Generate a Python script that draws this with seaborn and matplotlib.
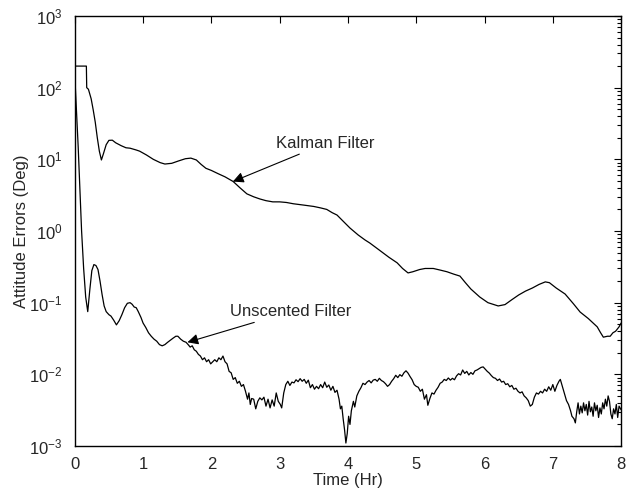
import matplotlib
matplotlib.use("Agg")
import matplotlib.pyplot as plt
import matplotlib.ticker as mticker
import pandas as pd
import seaborn as sns

# Kalman filter attitude error (Deg) vs time (Hr)
kalman_t = [0.0, 0.17, 0.175, 0.20, 0.24, 0.27, 0.30, 0.33, 0.36, 0.39, 0.42, 0.46, 0.50, 0.55,
            0.60, 0.68, 0.75, 0.81, 0.90, 0.95, 1.05, 1.15, 1.25, 1.32, 1.42, 1.52, 1.62, 1.70,
            1.78, 1.85, 1.92, 2.00, 2.10, 2.20, 2.32, 2.42, 2.52, 2.62, 2.71, 2.80, 2.90, 3.00,
            3.10, 3.20, 3.35, 3.50, 3.60, 3.69, 3.77, 3.84, 3.92, 4.03, 4.15, 4.25, 4.32, 4.45,
            4.60, 4.72, 4.80, 4.88, 4.95, 5.05, 5.13, 5.25, 5.35, 5.45, 5.55, 5.64, 5.72, 5.80,
            5.93, 6.05, 6.20, 6.30, 6.40, 6.50, 6.60, 6.70, 6.80, 6.89, 6.95, 7.05, 7.18, 7.30,
            7.40, 7.52, 7.65, 7.70, 7.74, 7.80, 7.84, 7.88, 7.92, 7.97, 8.00]
kalman_err = [200, 200, 100, 95, 70, 49, 33, 20, 13, 9.8, 12, 16, 18.4, 18.5,
              17, 15.5, 14.5, 14.3, 13.5, 13, 11.5, 10, 9, 8.6, 8.8, 9.5, 10.2, 10.4,
              9.8, 8.5, 7.5, 7.0, 6.3, 5.7, 4.9, 4.0, 3.3, 3.0, 2.8, 2.65, 2.55, 2.55,
              2.5, 2.4, 2.3, 2.2, 2.1, 2.0, 1.8, 1.67, 1.4, 1.1, 0.88, 0.75, 0.68, 0.55,
              0.43, 0.36, 0.30, 0.26, 0.27, 0.29, 0.30, 0.30, 0.285, 0.27, 0.25, 0.235, 0.19, 0.155,
              0.12, 0.10, 0.09, 0.094, 0.11, 0.128, 0.145, 0.16, 0.18, 0.195, 0.19, 0.16, 0.132, 0.097,
              0.074, 0.06, 0.046, 0.038, 0.033, 0.034, 0.034, 0.038, 0.040, 0.046, 0.052]

# Unscented filter attitude error (Deg) vs time (Hr)
ukf_t = [0.00, 0.02, 0.05, 0.08, 0.10, 0.13, 0.16, 0.19, 0.22, 0.25, 0.28, 0.31, 0.34, 0.37,
         0.40, 0.43, 0.46, 0.50, 0.53, 0.57, 0.61, 0.65, 0.69, 0.73, 0.77, 0.81, 0.84, 0.87,
         0.90, 0.93, 0.97, 1.00, 1.04, 1.08, 1.12, 1.16, 1.20, 1.24, 1.28, 1.32, 1.36, 1.40,
         1.44, 1.48, 1.51, 1.55, 1.59, 1.63, 1.66, 1.69, 1.72, 1.75, 1.78, 1.81, 1.84, 1.87,
         1.90, 1.93, 1.96, 1.99, 2.02, 2.05, 2.08, 2.11, 2.14, 2.17, 2.20, 2.23, 2.26, 2.29,
         2.32, 2.35, 2.38, 2.41, 2.44, 2.47, 2.50, 2.53, 2.55, 2.57, 2.59, 2.62, 2.65, 2.68,
         2.71, 2.74, 2.77, 2.80, 2.83, 2.86, 2.89, 2.92, 2.95, 2.98, 3.01, 3.03, 3.06, 3.09,
         3.12, 3.15, 3.18, 3.21, 3.24, 3.27, 3.30, 3.33, 3.36, 3.39, 3.42, 3.45, 3.48, 3.51,
         3.54, 3.57, 3.60, 3.63, 3.66, 3.69, 3.72, 3.75, 3.78, 3.81, 3.84, 3.87, 3.89, 3.91,
         3.93, 3.95, 3.97, 3.99, 4.01, 4.03, 4.05, 4.08, 4.10, 4.13, 4.16, 4.19, 4.22, 4.25,
         4.28, 4.31, 4.34, 4.37, 4.40, 4.43, 4.46, 4.49, 4.52, 4.55, 4.58, 4.61, 4.64, 4.67,
         4.70, 4.73, 4.76, 4.79, 4.82, 4.85, 4.88, 4.91, 4.94, 4.97, 5.00, 5.03, 5.06, 5.09,
         5.12, 5.15, 5.17, 5.20, 5.23, 5.26, 5.29, 5.32, 5.35, 5.38, 5.41, 5.44, 5.47, 5.50,
         5.53, 5.56, 5.59, 5.62, 5.65, 5.68, 5.71, 5.74, 5.77, 5.80, 5.83, 5.86, 5.89, 5.92,
         5.95, 5.98, 6.01, 6.04, 6.07, 6.10, 6.13, 6.16, 6.19, 6.22, 6.25, 6.28, 6.31, 6.34,
         6.37, 6.40, 6.43, 6.46, 6.49, 6.52, 6.55, 6.58, 6.61, 6.64, 6.67, 6.70, 6.73, 6.76,
         6.79, 6.82, 6.85, 6.88, 6.91, 6.94, 6.97, 7.00, 7.03, 7.06, 7.09, 7.11, 7.14, 7.17,
         7.20, 7.23, 7.26, 7.28, 7.31, 7.33, 7.35, 7.37, 7.39, 7.41, 7.43, 7.45, 7.47, 7.49,
         7.51, 7.53, 7.55, 7.57, 7.59, 7.61, 7.63, 7.65, 7.67, 7.69, 7.71, 7.73, 7.75, 7.77,
         7.79, 7.81, 7.83, 7.85, 7.87, 7.89, 7.91, 7.93, 7.95, 7.97, 8.00]
ukf_err = [150, 60, 15, 3, 1.0, 0.3, 0.12, 0.075, 0.15, 0.28, 0.34, 0.33, 0.29, 0.2,
           0.13, 0.09, 0.075, 0.068, 0.065, 0.057, 0.049, 0.056, 0.068, 0.085, 0.098, 0.1, 0.095, 0.087,
           0.085, 0.075, 0.062, 0.052, 0.045, 0.038, 0.034, 0.031, 0.029, 0.026, 0.025, 0.026, 0.028, 0.030,
           0.032, 0.034, 0.034, 0.031, 0.029, 0.028, 0.026, 0.024, 0.025, 0.022, 0.021, 0.019, 0.018, 0.016,
           0.017, 0.015, 0.016, 0.014, 0.015, 0.016, 0.015, 0.017, 0.016, 0.018, 0.015, 0.014, 0.011, 0.0105,
           0.0085, 0.009, 0.0075, 0.008, 0.0068, 0.0072, 0.0058, 0.0045, 0.0055, 0.0038, 0.0046, 0.0045, 0.0033, 0.0042,
           0.0047, 0.0044, 0.0048, 0.0036, 0.0045, 0.0034, 0.0044, 0.0036, 0.0055, 0.0042, 0.0038, 0.0034, 0.0055, 0.0072,
           0.0080, 0.0070, 0.0078, 0.0076, 0.0084, 0.0079, 0.0087, 0.0080, 0.0085, 0.0075, 0.0083, 0.0065, 0.0072, 0.0062,
           0.0068, 0.0063, 0.0072, 0.0065, 0.0078, 0.0066, 0.0071, 0.0060, 0.0068, 0.0056, 0.0060, 0.0045, 0.0033, 0.0036,
           0.0024, 0.0017, 0.0011, 0.0015, 0.0026, 0.0020, 0.0031, 0.0042, 0.0035, 0.0050, 0.0058, 0.0065, 0.0075, 0.0072,
           0.0078, 0.0082, 0.0076, 0.0083, 0.0085, 0.0080, 0.0088, 0.0082, 0.0079, 0.0074, 0.0068, 0.0072, 0.0080, 0.0087,
           0.0097, 0.0090, 0.0099, 0.0094, 0.0105, 0.0112, 0.0104, 0.0093, 0.0084, 0.0072, 0.0068, 0.0066, 0.0058, 0.0062,
           0.0045, 0.0052, 0.0037, 0.0046, 0.0055, 0.0053, 0.0060, 0.0066, 0.0075, 0.0078, 0.0085, 0.0082, 0.0089, 0.0083,
           0.0088, 0.0084, 0.0095, 0.0102, 0.0098, 0.0115, 0.0103, 0.0110, 0.0098, 0.0106, 0.0100, 0.0112, 0.0115, 0.0120,
           0.0125, 0.0127, 0.0118, 0.0110, 0.0104, 0.0096, 0.0090, 0.0088, 0.0082, 0.0086, 0.0078, 0.0080, 0.0072, 0.0074,
           0.0067, 0.0070, 0.0062, 0.0064, 0.0058, 0.0055, 0.0057, 0.0050, 0.0047, 0.0043, 0.0036, 0.0038, 0.0048, 0.0055,
           0.0053, 0.0058, 0.0055, 0.0062, 0.0058, 0.0067, 0.0060, 0.0072, 0.0058, 0.0070, 0.0080, 0.0085, 0.0068, 0.0055,
           0.0043, 0.0038, 0.0031, 0.0026, 0.0024, 0.0021, 0.0030, 0.0040, 0.0028, 0.0036, 0.0029, 0.0040, 0.0031, 0.0038,
           0.0027, 0.0042, 0.0030, 0.0035, 0.0026, 0.0040, 0.0031, 0.0037, 0.0025, 0.0034, 0.0028, 0.0040, 0.0033, 0.0045,
           0.0036, 0.0050, 0.0042, 0.0028, 0.0024, 0.0033, 0.0028, 0.0038, 0.0025, 0.0036, 0.0032]

kalman_df = pd.DataFrame({'Time': kalman_t, 'Error': kalman_err})
ukf_df = pd.DataFrame({'Time': ukf_t, 'Error': ukf_err})

sns.set_style('white')
plt.rcParams['font.family'] = ['Liberation Sans', 'DejaVu Sans']
plt.rcParams['mathtext.fontset'] = 'custom'
plt.rcParams['mathtext.rm'] = 'Liberation Sans'

fig = plt.figure(figsize=(6.39, 5.0), dpi=100)
ax = fig.add_axes([0.117, 0.108, 0.855, 0.860])

sns.lineplot(data=kalman_df, x='Time', y='Error', ax=ax, color='black', lw=0.9,
             estimator=None, sort=False)
sns.lineplot(data=ukf_df, x='Time', y='Error', ax=ax, color='black', lw=0.9,
             estimator=None, sort=False)

ax.set_yscale('log')
ax.set_xlim(0, 8)
ax.set_ylim(1e-3, 1e3)
ax.set_xticks(range(0, 9))
ax.yaxis.set_major_locator(mticker.LogLocator(base=10, numticks=10))
ax.yaxis.set_minor_locator(mticker.LogLocator(base=10, subs=range(2, 10), numticks=20))
ax.yaxis.set_minor_formatter(mticker.NullFormatter())
ax.tick_params(which='both', direction='in', top=True, right=True, labelsize=12,
               color='black', width=0.8)
ax.tick_params(which='major', length=5)
ax.tick_params(which='minor', length=3)
ax.tick_params(axis='x', which='major', pad=8)
ax.tick_params(axis='y', which='major', pad=9)
for s in ax.spines.values():
    s.set_color('black')
    s.set_linewidth(1.0)

ax.set_xlabel('Time (Hr)', fontsize=12, labelpad=1)
ax.set_ylabel('Attitude Errors (Deg)', fontsize=12)
ax.yaxis.set_label_coords(-0.084, 0.5)

arrow = dict(arrowstyle='-|>', color='black', lw=0.8, mutation_scale=16, shrinkA=0, shrinkB=0)
ax.annotate('Kalman Filter', xy=(2.315, 4.9), xytext=(2.95, 16.7), fontsize=12,
            va='center', ha='left', arrowprops=arrow)
ax.annotate('Unscented Filter', xy=(1.65, 0.028), xytext=(2.27, 0.075), fontsize=12,
            va='center', ha='left', arrowprops=arrow)

fig.savefig('out.png', dpi=100)
